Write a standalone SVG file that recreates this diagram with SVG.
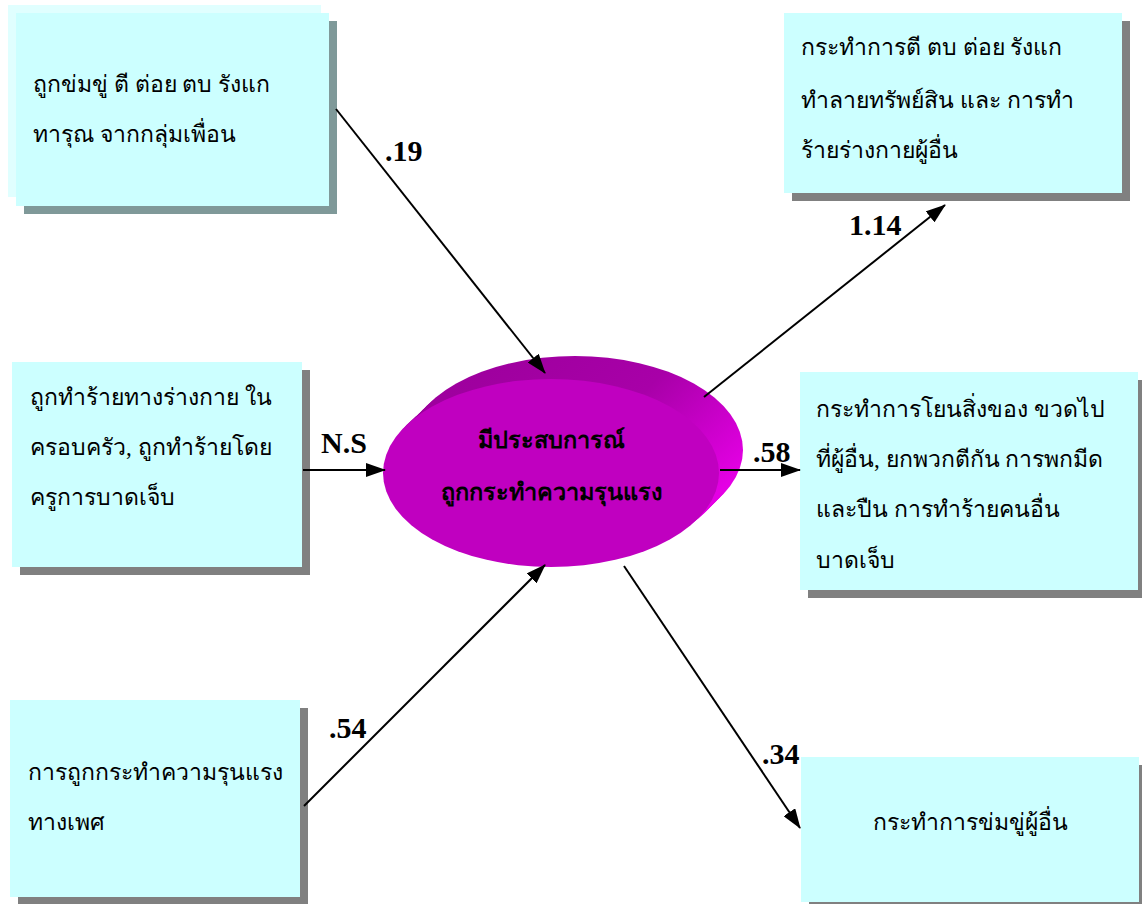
<svg xmlns="http://www.w3.org/2000/svg" width="1142" height="904" viewBox="0 0 1142 904">
<style>
.box{fill:#ccffff}
.shd{fill:#808080}
.t{font-family:"Liberation Serif","DejaVu Serif",serif;font-size:23px;fill:#000}
.ct{font-family:"Liberation Serif","DejaVu Serif",serif;font-size:23.5px;font-weight:bold;fill:#000;text-anchor:middle}
.lbl{font-family:"Liberation Serif","Times New Roman",serif;font-size:30px;font-weight:bold;fill:#000}
.ln{stroke:#000;stroke-width:2;fill:none;marker-end:url(#ah)}
</style>
<defs>
<marker id="ah" viewBox="0 0 20 14" refX="19" refY="7" markerWidth="20" markerHeight="14" markerUnits="userSpaceOnUse" orient="auto">
<path d="M0,0 L20,7 L0,14 Z" fill="#000"/>
</marker>
<linearGradient id="side" x1="0" y1="0" x2="1" y2="0.6">
<stop offset="0" stop-color="#9a009a"/>
<stop offset="0.6" stop-color="#a800a8"/>
<stop offset="1" stop-color="#e400e4"/>
</linearGradient>
</defs>
<rect width="1142" height="904" fill="#fff"/>

<g id="n1">
<rect x="8" y="5" width="313" height="192" fill="#e0ffff"/>
<rect x="24" y="21" width="313" height="193" fill="#7f9999"/>
<rect class="box" x="16" y="13" width="313" height="193"/>
<text class="t" x="33" y="92">ถูกข่มขู่ ตี ต่อย ตบ รังแก</text>
<text class="t" x="33" y="142">ทารุณ จากกลุ่มเพื่อน</text>
</g>

<g id="n2">
<rect class="shd" x="792" y="21" width="338" height="180"/>
<rect class="box" x="784" y="13" width="338" height="180"/>
<text class="t" x="801" y="55">กระทำการตี ตบ ต่อย  รังแก</text>
<text class="t" x="801" y="108">ทำลายทรัพย์สิน และ การทำ</text>
<text class="t" x="801" y="158">ร้ายร่างกายผู้อื่น</text>
</g>

<g id="n3">
<rect class="shd" x="20" y="370" width="290" height="205"/>
<rect class="box" x="12" y="362" width="290" height="205"/>
<text class="t" x="30" y="405">ถูกทำร้ายทางร่างกาย ใน</text>
<text class="t" x="30" y="455">ครอบครัว, ถูกทำร้ายโดย</text>
<text class="t" x="30" y="505">ครูการบาดเจ็บ</text>
</g>

<g id="n4">
<rect class="shd" x="808" y="380" width="338" height="218"/>
<rect class="box" x="800" y="372" width="338" height="218"/>
<text class="t" x="816" y="417">กระทำการโยนสิ่งของ ขวดไป</text>
<text class="t" x="816" y="467">ที่ผู้อื่น, ยกพวกตีกัน การพกมีด</text>
<text class="t" x="816" y="517">และปืน การทำร้ายคนอื่น</text>
<text class="t" x="816" y="568">บาดเจ็บ</text>
</g>

<g id="n5">
<rect class="shd" x="18" y="708" width="290" height="197"/>
<rect class="box" x="10" y="700" width="290" height="197"/>
<text class="t" x="28" y="780">การถูกกระทำความรุนแรง</text>
<text class="t" x="28" y="830">ทางเพศ</text>
</g>

<g id="n6">
<rect class="shd" x="809" y="765" width="338" height="145"/>
<rect class="box" x="801" y="757" width="338" height="145"/>
<text class="t" x="970" y="830" text-anchor="middle">กระทำการข่มขู่ผู้อื่น</text>
</g>

<g id="center">
<ellipse cx="575" cy="450" rx="168" ry="94" fill="url(#side)"/>
<ellipse cx="571" cy="454" rx="168" ry="94" fill="url(#side)"/>
<ellipse cx="567" cy="458" rx="168" ry="94" fill="url(#side)"/>
<ellipse cx="563" cy="462" rx="168" ry="94" fill="url(#side)"/>
<ellipse cx="559" cy="466" rx="168" ry="94" fill="url(#side)"/>
<ellipse cx="555" cy="469" rx="168" ry="94" fill="url(#side)"/>
<ellipse cx="551" cy="473" rx="168" ry="94" fill="#c000c0"/>
<text class="ct" x="551" y="448">มีประสบการณ์</text>
<text class="ct" x="551" y="500">ถูกกระทำความรุนแรง</text>
</g>

<g id="connectors">
<line class="ln" x1="336" y1="109" x2="545" y2="373"/>
<line class="ln" x1="303" y1="470" x2="385" y2="470"/>
<line class="ln" x1="304" y1="806" x2="545" y2="565"/>
<line class="ln" x1="704" y1="397" x2="945" y2="205"/>
<line class="ln" x1="720" y1="470" x2="800" y2="470"/>
<line class="ln" x1="624" y1="566" x2="800" y2="828"/>
<text class="lbl" x="385" y="161">.19</text>
<text class="lbl" x="321" y="453">N.S</text>
<text class="lbl" x="329" y="738">.54</text>
<text class="lbl" x="849" y="235">1.14</text>
<text class="lbl" x="753" y="462">.58</text>
<text class="lbl" x="762" y="764">.34</text>
</g>
</svg>
